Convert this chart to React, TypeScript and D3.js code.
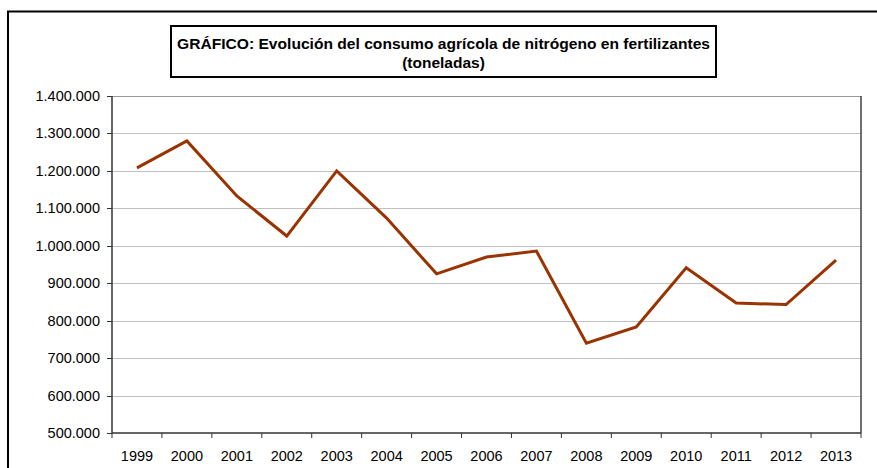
import React from "react";
import * as d3 from "d3";

const years = ["1999","2000","2001","2002","2003","2004","2005","2006","2007","2008","2009","2010","2011","2012","2013"];
const values = [1208000,1280000,1133000,1026000,1200000,1074000,925000,970000,986000,740000,783000,941000,847000,843000,962000];
const yTicks = [500000,600000,700000,800000,900000,1000000,1100000,1200000,1300000,1400000];
const titleLines = ["GRÁFICO: Evolución del consumo agrícola de nitrógeno en fertilizantes", "(toneladas)"];

const W = 877, H = 468;
const L = 112, R = 861, T = 96, B = 433;

const fmt = (v: number) => {
  const s = String(v);
  return s.replace(/\B(?=(\d{3})+(?!\d))/g, ".");
};

export default function App() {
  const x = d3.scaleBand<string>().domain(years).range([L, R]).paddingInner(0).paddingOuter(0);
  const y = d3.scaleLinear().domain([500000, 1400000]).range([B, T]);
  const line = d3.line<number>()
    .x((_, i) => (x(years[i]) as number) + x.bandwidth() / 2)
    .y((d) => y(d));
  const font = "'Liberation Sans', Arial, sans-serif";
  const boundaries = years.map((yr) => x(yr) as number).concat([R]);
  return (
    <svg width={W} height={H} style={{ position: "absolute", left: 0, top: 0, display: "block" }} fontFamily={font}>
      <rect x={0} y={0} width={W} height={H} fill="#fff" />
      {/* outer border */}
      <path d={`M8,${H + 5} L8,11.5 L${W + 5},11.5`} fill="none" stroke="#000" strokeWidth={2} />
      {/* title box */}
      <rect x={171} y={26} width={545} height={51} fill="#fff" stroke="#000" strokeWidth={2} />
      {titleLines.map((t, i) => (
        <text key={i} x={443.5} y={48.5 + i * 19.5} textAnchor="middle" fontSize={15.5} fontWeight="bold" fill="#000" textLength={i === 0 ? 533 : undefined} lengthAdjust="spacingAndGlyphs">{t}</text>
      ))}
      {/* gridlines */}
      {yTicks.slice(1).map((v) => (
        <line key={v} x1={L} x2={R} y1={Math.round(y(v)) + 0.5} y2={Math.round(y(v)) + 0.5} stroke={v === 1400000 ? "#999" : "#c0c0c0"} strokeWidth={1} />
      ))}
      {/* right border */}
      <line x1={R} x2={R} y1={T} y2={B} stroke="#404040" strokeWidth={1.5} />
      {/* y axis */}
      <line x1={L} x2={L} y1={T} y2={B} stroke="#333" strokeWidth={1.5} />
      {yTicks.map((v) => (
        <g key={v}>
          <line x1={L - 5} x2={L} y1={Math.round(y(v)) + 0.5} y2={Math.round(y(v)) + 0.5} stroke="#333" strokeWidth={1} />
          <text x={L - 12} y={y(v) + 5} textAnchor="end" fontSize={14.5} fill="#000">{fmt(v)}</text>
        </g>
      ))}
      {/* x axis */}
      <line x1={L} x2={R} y1={B} y2={B} stroke="#333" strokeWidth={1.5} />
      {boundaries.map((bx, i) => (
        <line key={i} x1={bx} x2={bx} y1={B} y2={B + 5} stroke="#333" strokeWidth={1} />
      ))}
      {years.map((yr) => (
        <text key={yr} x={(x(yr) as number) + x.bandwidth() / 2} y={B + 28} textAnchor="middle" fontSize={14.5} fill="#000">{yr}</text>
      ))}
      {/* data line */}
      <path d={line(values) as string} fill="none" stroke="#993300" strokeWidth={3} strokeLinejoin="miter" />
    </svg>
  );
}
